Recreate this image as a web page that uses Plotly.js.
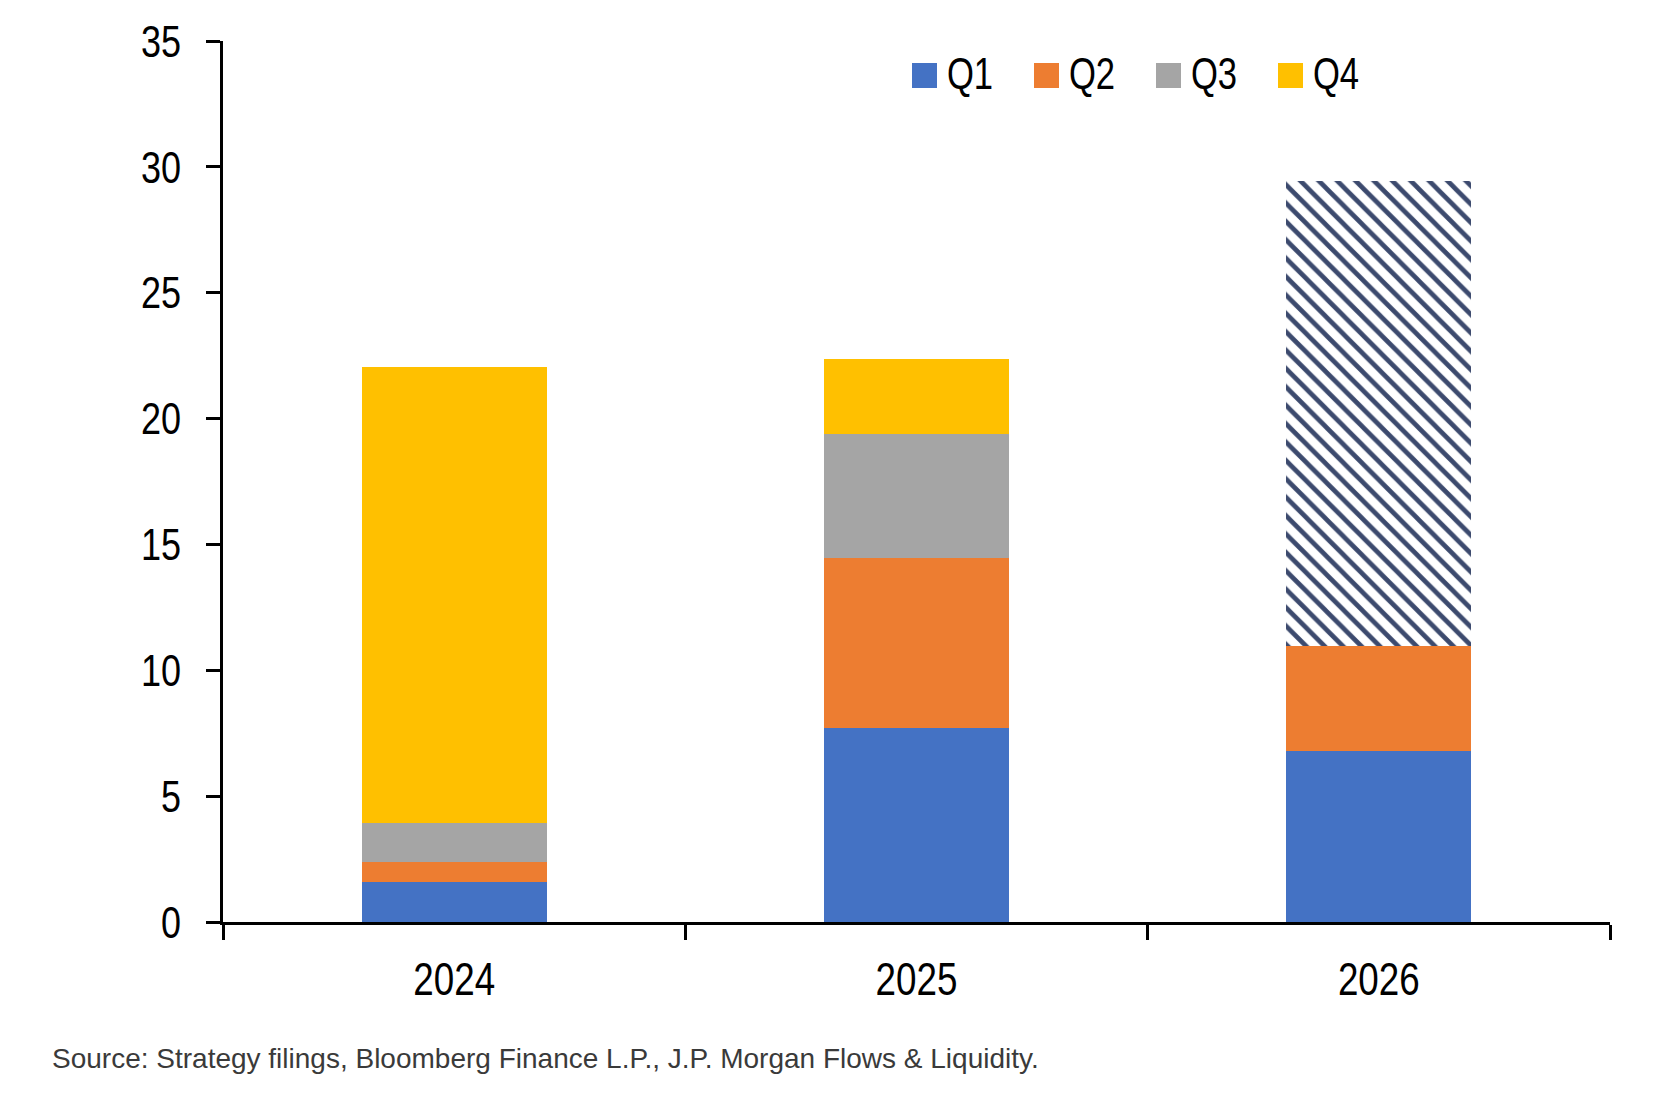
<!DOCTYPE html>
<html>
<head>
<meta charset="utf-8">
<script src="https://cdn.plot.ly/plotly-3.0.1.min.js"></script>
<style>html,body{margin:0;padding:0;background:#fff;}#chart{width:1678px;height:1098px;}</style>
</head>
<body>
<div id="chart"></div>
<script>
// ---- data ----
const years = ["2024", "2025", "2026"];
const seriesNames = ["Q1", "Q2", "Q3", "Q4"];
const q1 = [1.6, 7.7, 6.8];
const q2 = [0.8, 6.75, 4.15];
const q3 = [1.55, 4.95, 0];
const q4 = [18.1, 2.95, 0];
const projected = [0, 0, 18.5];
const yTicks = [0, 5, 10, 15, 20, 25, 30, 35];
const sourceNote = "Source: Strategy filings, Bloomberg Finance L.P., J.P. Morgan Flows & Liquidity.";

// ---- styles ----
const colors = ["#4472C4", "#ED7D31", "#A5A5A5", "#FFC000"];
const sans = "'Liberation Sans', Arial, sans-serif";
const values = [q1, q2, q3, q4];

const traces = seriesNames.map((n, i) => ({
  type: "bar", name: n, x: years, y: values[i],
  marker: { color: colors[i], line: { width: 0 } },
  showlegend: false
}));
traces.push({
  type: "bar", name: "Projected", x: years, y: projected,
  marker: {
    color: "#ffffff", line: { width: 0 },
    pattern: { shape: "\\", fgcolor: "#3c4a6e", bgcolor: "#ffffff", size: 13, solidity: 0.36 }
  },
  showlegend: false
});

// plot area in px
const L = 223, R = 1610, T = 41, B = 922;
const W = 1678, H = 1098;
const px = v => (v - L) / (R - L);
const py = v => (B - v) / (B - T);

const shapes = [];
const annotations = [];
seriesNames.forEach((n, i) => {
  const x0 = 912 + i * 122;
  shapes.push({
    type: "rect", xref: "paper", yref: "paper",
    x0: px(x0), x1: px(x0 + 25), y0: py(88), y1: py(63),
    fillcolor: colors[i], line: { width: 0 }
  });
  annotations.push({
    xref: "paper", yref: "paper", x: px(x0 + 26), y: py(73),
    xanchor: "left", yanchor: "middle", showarrow: false,
    text: n, font: { family: sans, size: 45, color: "#000" }
  });
});
annotations.push({
  xref: "paper", yref: "paper", x: px(50), y: py(1058),
  xanchor: "left", yanchor: "middle", showarrow: false,
  text: sourceNote, font: { family: sans, size: 28, color: "#3a3a3a" }
});

const layout = {
  width: W, height: H,
  margin: { l: L, r: W - R, t: T, b: H - B, pad: 0 },
  paper_bgcolor: "#fff", plot_bgcolor: "#fff",
  barmode: "stack", bargap: 0.6,
  showlegend: false,
  font: { family: sans, color: "#000" },
  xaxis: {
    type: "category", range: [-0.5, 2.5],
    showline: true, linecolor: "#000", linewidth: 3,
    ticks: "outside", tickson: "boundaries", ticklen: 15, tickwidth: 3, tickcolor: "#000",
    tickfont: { family: sans, size: 46, color: "#000" },
    ticklabelstandoff: 15,
    showgrid: false, zeroline: false, fixedrange: true
  },
  yaxis: {
    range: [0, 35], tickvals: yTicks, ticktext: yTicks.map(String),
    showline: true, linecolor: "#000", linewidth: 3,
    ticks: "outside", ticklen: 14, tickwidth: 3, tickcolor: "#000",
    tickfont: { family: sans, size: 45, color: "#000" },
    ticklabelstandoff: 16,
    showgrid: false, zeroline: false, fixedrange: true
  },
  shapes: shapes,
  annotations: annotations
};

// narrow the chart's own labels (the original uses a narrow face)
function condense(el, f) {
  try {
    const len = el.getComputedTextLength();
    if (len > 0) {
      el.setAttribute("textLength", (len * f).toFixed(1));
      el.setAttribute("lengthAdjust", "spacingAndGlyphs");
    }
  } catch (e) {}
}

Plotly.newPlot("chart", traces, layout, { displayModeBar: false, staticPlot: true }).then(gd => {
  gd.querySelectorAll(".xtick text").forEach(t => condense(t, 0.8));
  gd.querySelectorAll(".ytick text").forEach(t => condense(t, 0.8));
  gd.querySelectorAll(".annotation").forEach(a => {
    const idx = +a.getAttribute("data-index");
    if (idx < seriesNames.length) {
      a.querySelectorAll("text").forEach(t => condense(t, 0.77));
    }
  });
});
</script>
</body>
</html>
